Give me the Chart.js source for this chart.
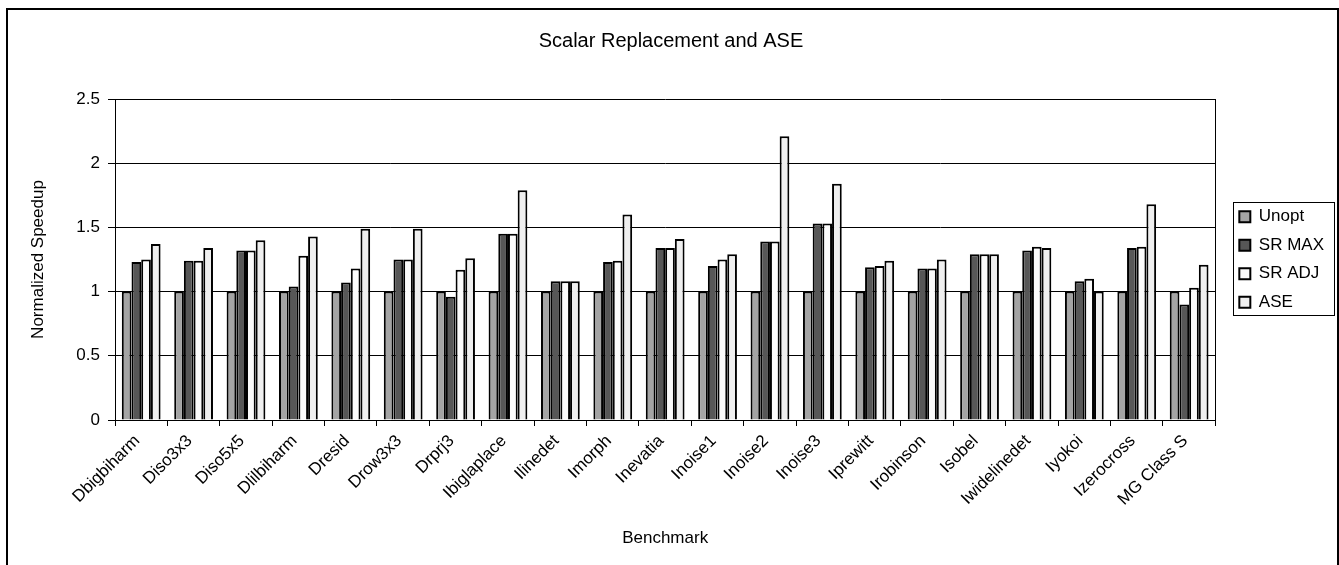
<!DOCTYPE html>
<html>
<head>
<meta charset="utf-8">
<title>Scalar Replacement and ASE</title>
<script src="https://cdn.jsdelivr.net/npm/chart.js@4/dist/chart.umd.min.js"></script>
<style>
  html, body { margin: 0; padding: 0; background: #fff; overflow: hidden; }
  #wrap { position: relative; width: 1339px; height: 565px; }
  #speedupChart { position: absolute; left: 0; top: 0; }
  .frame { position: absolute; left: 6px; top: 8px; width: 1329px; height: 600px; border: 2px solid #000; pointer-events: none; }
</style>
</head>
<body>
<div id="wrap">
  <canvas id="speedupChart" width="1339" height="565"></canvas>
  <div class="frame"></div>
</div>
<script>
// --- Data ---
const benchmarks = ["Dbigbiharm", "Diso3x3", "Diso5x5", "Dlilbiharm", "Dresid", "Drow3x3", "Drprj3",
    "Ibiglaplace", "Ilinedet", "Imorph", "Inevatia", "Inoise1", "Inoise2", "Inoise3", "Iprewitt",
    "Irobinson", "Isobel", "Iwidelinedet", "Iyokoi", "Izerocross", "MG Class S"];
const unopt = [1, 1, 1, 1, 1, 1, 1, 1, 1, 1, 1, 1, 1, 1, 1, 1, 1, 1, 1, 1, 1];
const srMax = [1.23, 1.24, 1.32, 1.04, 1.07, 1.25, 0.96, 1.45, 1.08, 1.23, 1.34, 1.20, 1.39, 1.53, 1.19, 1.18, 1.29, 1.32, 1.08, 1.34, 0.90];
const srAdj = [1.25, 1.24, 1.32, 1.28, 1.18, 1.25, 1.17, 1.45, 1.08, 1.24, 1.34, 1.25, 1.39, 1.53, 1.20, 1.18, 1.29, 1.35, 1.10, 1.35, 1.03];
const ase = [1.37, 1.34, 1.40, 1.43, 1.49, 1.49, 1.26, 1.79, 1.08, 1.60, 1.41, 1.29, 2.21, 1.84, 1.24, 1.25, 1.29, 1.34, 1.00, 1.68, 1.21];
const yTicks = [0, 0.5, 1, 1.5, 2, 2.5];

const FONT = 'Arial, "Liberation Sans", sans-serif';
Chart.defaults.font.family = FONT;
Chart.defaults.color = '#000';

function makeSet(label, data, fill) {
    return {
        label: label,
        data: data,
        backgroundColor: fill,
        borderColor: '#000',
        borderWidth: 2,
        categoryPercentage: 0.74,
        barPercentage: 1.0
    };
}

// box around the legend, like the Excel one
const legendFrame = {
    id: 'legendFrame',
    afterDraw(chart) {
        const boxes = chart.legend && chart.legend.legendHitBoxes;
        if (!boxes || !boxes.length) return;
        let l = Infinity, r = -Infinity, t = Infinity, b = -Infinity;
        boxes.forEach(h => {
            l = Math.min(l, h.left); r = Math.max(r, h.left + h.width);
            t = Math.min(t, h.top); b = Math.max(b, h.top + h.height);
        });
        const ctx = chart.ctx;
        ctx.save();
        ctx.strokeStyle = '#000';
        ctx.lineWidth = 1;
        ctx.strokeRect(Math.round(l - 6) + 0.5, Math.round(t - 6) + 0.5, Math.round(r - l + 16), Math.round(b - t + 10));
        ctx.restore();
    }
};

const ctx = document.getElementById('speedupChart').getContext('2d');
new Chart(ctx, {
    type: 'bar',
    data: {
        labels: benchmarks,
        datasets: [
            makeSet('Unopt', unopt, '#a4a4a4'),
            makeSet('SR MAX', srMax, '#575757'),
            makeSet('SR ADJ', srAdj, '#fbfbfb'),
            makeSet('ASE', ase, '#efefef')
        ]
    },
    options: {
        responsive: false,
        animation: false,
        layout: { padding: { left: 8, right: 5, top: 0, bottom: 0 } },
        plugins: {
            title: {
                display: true,
                text: 'Scalar Replacement and ASE',
                font: { size: 20, weight: 'normal' },
                color: '#000',
                padding: { top: 29, bottom: 46 }
            },
            legend: {
                position: 'right',
                fullSize: false,
                labels: {
                    boxWidth: 11,
                    boxHeight: 11,
                    padding: 11.5,
                    font: { size: 17 },
                    color: '#000'
                }
            },
            tooltip: { enabled: false }
        },
        scales: {
            x: {
                grid: { display: true, drawOnChartArea: false, color: '#000', tickLength: 6, offset: true },
                border: { display: true, color: '#000', width: 1 },
                ticks: { autoSkip: false, maxRotation: 45, minRotation: 45, font: { size: 17 }, padding: 5, labelOffset: -4 },
                title: { display: true, text: 'Benchmark', font: { size: 17 }, padding: { top: 0, bottom: 16 } },
                afterFit: function(scale) { scale.height = 145; }
            },
            y: {
                min: 0,
                max: 2.5,
                afterBuildTicks: function(scale) { scale.ticks = yTicks.map(v => ({ value: v })); },
                grid: { color: '#000', lineWidth: 1, tickLength: 7 },
                border: { display: true, color: '#000', width: 1 },
                ticks: {
                    font: { size: 17 },
                    padding: 8,
                    callback: function(value) { return String(value); }
                },
                title: { display: true, text: 'Normalized Speedup', font: { size: 17 }, padding: { top: 20, bottom: 0 } },
                afterFit: function(scale) { scale.width = 107; }
            },
            yRight: {
                position: 'right',
                min: 0,
                max: 2.5,
                grid: { display: false },
                ticks: { display: false },
                border: { display: true, color: '#000', width: 1 },
                afterFit: function(scale) { scale.width = 12.5; }
            }
        }
    },
    plugins: [legendFrame]
});
</script>
</body>
</html>
